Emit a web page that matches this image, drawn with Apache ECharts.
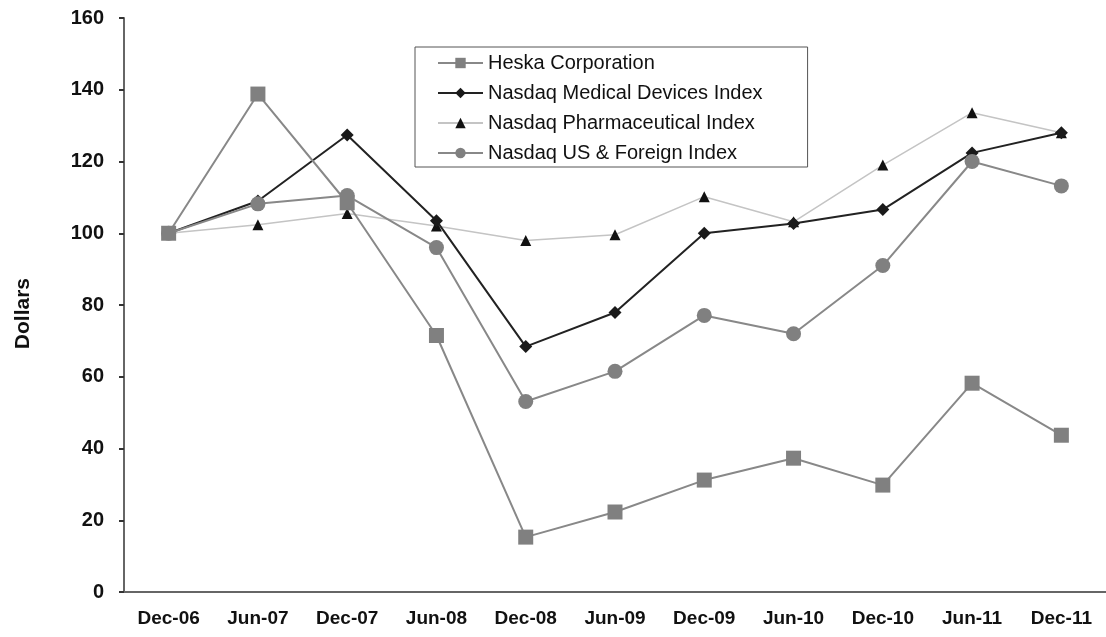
<!DOCTYPE html>
<html><head><meta charset="utf-8">
<script src="https://cdn.jsdelivr.net/npm/echarts@6/dist/echarts.min.js"></script>
<style>html,body{margin:0;padding:0;background:#fff}#c{width:1106px;height:637px}</style>
</head><body><div id="c"></div>
<script>
var categories = ['Dec-06','Jun-07','Dec-07','Jun-08','Dec-08','Jun-09','Dec-09','Jun-10','Dec-10','Jun-11','Dec-11'];
var heska = [100, 138.8, 108.5, 71.5, 15.3, 22.3, 31.2, 37.3, 29.8, 58.2, 43.7];
var medical = [100, 109, 127.4, 103.5, 68.4, 77.9, 100, 102.7, 106.6, 122.4, 128];
var pharma = [100, 102.4, 105.5, 102, 98, 99.6, 110.2, 103.2, 119, 133.6, 128];
var usForeign = [100, 108.2, 110.5, 96, 53.1, 61.5, 77.1, 72, 91, 120, 113.2];
var seriesNames = ['Heska Corporation','Nasdaq Medical Devices Index','Nasdaq Pharmaceutical Index','Nasdaq US & Foreign Index'];
var yTitle = 'Dollars';

var chart = echarts.init(document.getElementById('c'));
var font = 'Liberation Sans, Arial, sans-serif';
chart.setOption({
  animation: false,
  backgroundColor: '#fff',
  textStyle: {fontFamily: font},
  grid: {left: 124, right: -4, top: 18, bottom: 45},
  graphic: [{
    type: 'text', left: 13, top: 278, rotation: Math.PI / 2,
    style: {text: yTitle, font: 'bold 21px ' + font, fill: '#111'}
  }],
  legend: {
    orient: 'vertical', left: 415, top: 47,
    padding: [6, 45, 4, 22],
    borderColor: '#555', borderWidth: 1,
    itemGap: 10, itemWidth: 45, itemHeight: 13,
    textStyle: {fontSize: 20, lineHeight: 20, color: '#111', fontFamily: font},
    data: seriesNames
  },
  xAxis: {
    type: 'category', data: categories, boundaryGap: true,
    axisLine: {lineStyle: {color: '#666', width: 2}},
    axisTick: {inside: false, length: 5, lineStyle: {color: '#333', width: 2}},
    axisLabel: {fontSize: 19, fontWeight: 'bold', color: '#111', margin: 17, interval: 0}
  },
  yAxis: {
    type: 'value', min: 0, max: 160, interval: 20,
    splitLine: {show: false},
    axisLine: {show: true, lineStyle: {color: '#666', width: 2}},
    axisTick: {show: true, length: 5, lineStyle: {color: '#333', width: 2}},
    axisLabel: {fontSize: 20, fontWeight: 'bold', color: '#111', margin: 20}
  },
  series: [
    {name: seriesNames[0], type: 'line', data: heska, symbol: 'rect', symbolSize: 15,
     lineStyle: {color: '#888', width: 2}, itemStyle: {color: '#808080'}, z: 4},
    {name: seriesNames[1], type: 'line', data: medical, symbol: 'diamond', symbolSize: 13,
     lineStyle: {color: '#222', width: 2}, itemStyle: {color: '#1a1a1a'}, z: 3},
    {name: seriesNames[2], type: 'line', data: pharma, symbol: 'triangle', symbolSize: 11,
     lineStyle: {color: '#c4c4c4', width: 1.5}, itemStyle: {color: '#111'}, z: 2},
    {name: seriesNames[3], type: 'line', data: usForeign, symbol: 'circle', symbolSize: 15,
     lineStyle: {color: '#888', width: 2}, itemStyle: {color: '#808080'}, z: 5}
  ]
});
</script></body></html>
